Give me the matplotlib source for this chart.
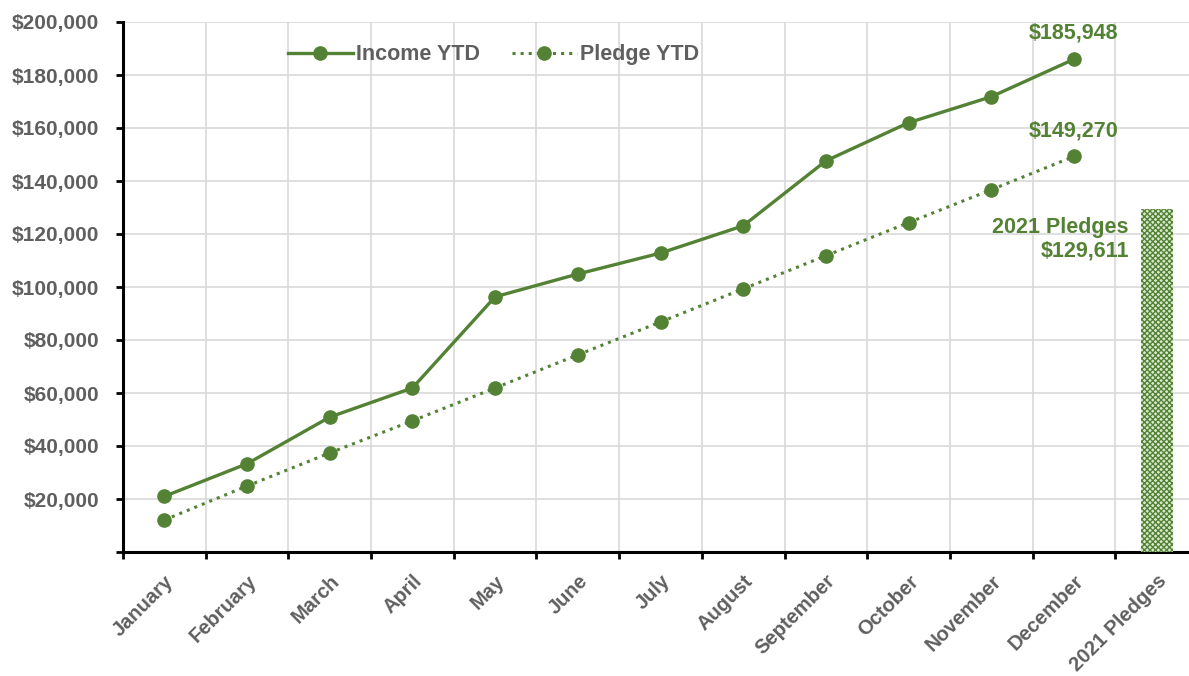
import matplotlib.pyplot as plt
import matplotlib.ticker as mticker
import numpy as np

months = ['January', 'February', 'March', 'April', 'May', 'June', 'July',
          'August', 'September', 'October', 'November', 'December']
categories = months + ['2021 Pledges']
income_ytd = [21000, 33300, 50900, 61900, 96300, 104900, 112800, 123100,
              147600, 162000, 171800, 185948]
pledge_ytd = [12100, 24900, 37400, 49500, 61900, 74400, 86800, 99300,
              111800, 124300, 136700, 149270]
pledges_2021 = 129611

green = '#548235'
gray = '#5f5f5f'
plt.rcParams['font.family'] = ['Liberation Sans', 'DejaVu Sans']

fig = plt.figure(figsize=(11.89, 6.76), dpi=100)
# axes runs slightly past the right edge of the figure, as in the original
ax = fig.add_axes([123 / 1189, 1 - 552 / 676, 1075 / 1189, 530 / 676])

x = np.arange(len(months))
ax.plot(x, income_ytd, '-o', color=green, lw=2.4, ms=9.5, label='Income YTD')
ax.plot(x, pledge_ytd, ':o', color=green, lw=2.2, ms=9.5, label='Pledge YTD')
ax.bar(len(months), pledges_2021, width=0.39, facecolor='#d8ead0',
       edgecolor=green, hatch='xxxxxx', linewidth=0, zorder=3)

lab = dict(color=green, fontsize=15.5, fontweight='bold')
ax.annotate(f'${income_ytd[-1]:,}', (x[-1], income_ytd[-1]), xytext=(0, 11),
            textcoords='offset points', ha='center', va='bottom', **lab)
ax.annotate(f'${pledge_ytd[-1]:,}', (x[-1], pledge_ytd[-1]), xytext=(0, 11),
            textcoords='offset points', ha='center', va='bottom', **lab)
ax.annotate(f'2021 Pledges\n${pledges_2021:,}', (len(months), pledges_2021),
            xytext=(-20, -6), textcoords='offset points', ha='right', va='top',
            linespacing=1.15, **lab)

ax.set_xlim(-0.5, len(categories) - 0.5)
ax.set_ylim(0, 200000)
ax.set_xticks(np.arange(len(categories)))
ax.set_xticklabels(categories, rotation=45, ha='right', rotation_mode='anchor',
                   fontweight='bold')
ax.set_xticks(np.arange(-0.5, len(categories) - 0.5, 1), minor=True)
ax.tick_params(axis='x', which='major', length=0, pad=14, labelsize=14.5, labelcolor=gray)
ax.tick_params(axis='x', which='minor', length=5, width=2, direction='out')
ax.set_yticks(np.arange(0, 200001, 20000))
ax.yaxis.set_major_formatter(mticker.FuncFormatter(lambda v, p: f'${v:,.0f}' if v > 0 else ''))
ax.tick_params(axis='y', length=5, width=2, pad=12, labelsize=15, labelcolor=gray)
for t in ax.get_yticklabels():
    t.set_fontweight('bold')

ax.grid(axis='y', which='major', color='#d9d9d9', lw=1.2)
ax.grid(axis='x', which='minor', color='#d9d9d9', lw=1.2)
ax.set_axisbelow(True)
for s in ['top', 'right']:
    ax.spines[s].set_visible(False)
for s in ['left', 'bottom']:
    ax.spines[s].set_linewidth(2.2)

leg = ax.legend(loc='center left', bbox_to_anchor=(0.1535, 0.938), ncol=2, frameon=False,
                prop={'size': 15.5, 'weight': 'bold'}, labelcolor=gray, handlelength=3.0,
                handletextpad=0.15, columnspacing=1.5, borderaxespad=0, borderpad=0)

fig.savefig('out.png', dpi=100)
